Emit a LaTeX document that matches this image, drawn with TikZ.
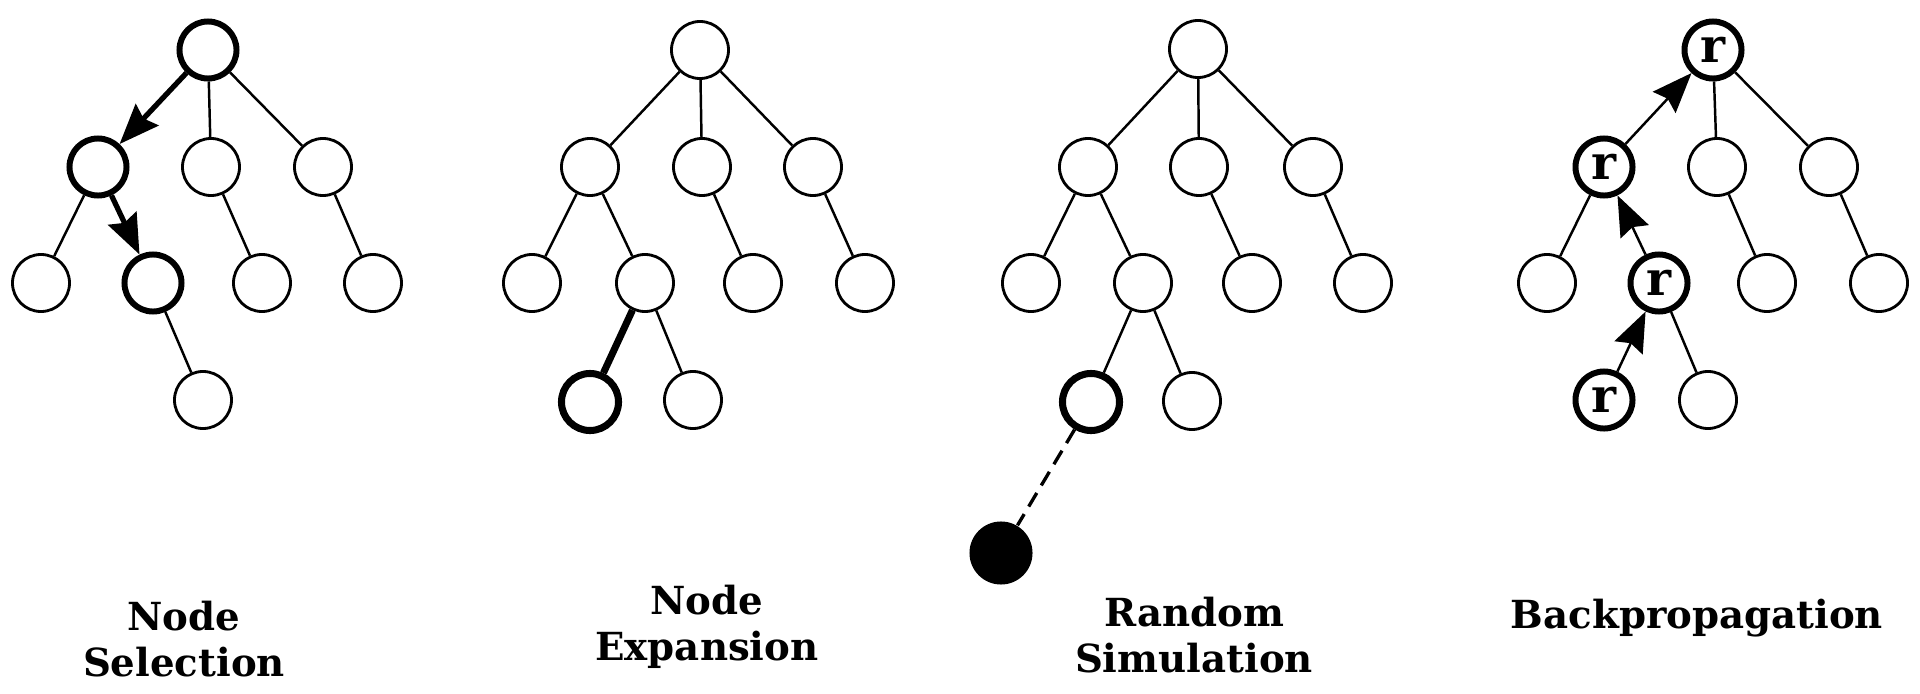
\documentclass[tikz,border=0pt]{standalone}
\usepackage{fontspec}
\setmainfont{DejaVu Serif}
\usetikzlibrary{arrows.meta,shapes.geometric}
\begin{document}
\begin{tikzpicture}[x=0.01cm,y=-0.01cm,
  nd/.style={circle,draw,line width=0.8pt,minimum size=0.57cm,inner sep=0pt,font=\fontsize{13.5}{14}\selectfont\bfseries},
  hl/.style={line width=1.7pt},
  ln/.style={line width=0.7pt},
  thk/.style={line width=1.5pt},
  arr/.style={-{Stealth[length=0.4cm,width=0.31cm,inset=0.05cm]}},
  lab/.style={align=center,font=\fontsize{11}{13}\selectfont\bfseries}
]
\useasboundingbox (0,0) rectangle (1920,694);
% ---------- Panel 1: Node Selection ----------
\node[nd,hl] (a0) at (208,50) {};
\node[nd,hl] (a1) at (98,167) {};
\node[nd] (a2) at (211,167) {};
\node[nd] (a3) at (323,167) {};
\node[nd] (a4) at (41,283) {};
\node[nd,hl] (a5) at (153,283) {};
\node[nd] (a6) at (262,283) {};
\node[nd] (a7) at (373,283) {};
\node[nd] (a8) at (203,400) {};
\draw[thk,arr] (a0) -- (a1);
\draw[ln] (a0) -- (a2);
\draw[ln] (a0) -- (a3);
\draw[ln] (a1) -- (a4);
\draw[thk,arr] (a1) -- (a5);
\draw[ln] (a2) -- (a6);
\draw[ln] (a3) -- (a7);
\draw[ln] (a5) -- (a8);
\node[lab] (la) at (184,639) {Node\\Selection};
% ---------- Panel 2: Node Expansion ----------
\node[nd] (b0) at (700,50) {};
\node[nd] (b1) at (590,167) {};
\node[nd] (b2) at (702,167) {};
\node[nd] (b3) at (813,167) {};
\node[nd] (b4) at (532,283) {};
\node[nd] (b5) at (645,283) {};
\node[nd] (b6) at (753,283) {};
\node[nd] (b7) at (865,283) {};
\node[nd,line width=2pt] (b8) at (590,402) {};
\node[nd] (b9) at (693,400) {};
\draw[ln] (b0) -- (b1);
\draw[ln] (b0) -- (b2);
\draw[ln] (b0) -- (b3);
\draw[ln] (b1) -- (b4);
\draw[ln] (b1) -- (b5);
\draw[ln] (b2) -- (b6);
\draw[ln] (b3) -- (b7);
\draw[line width=2pt] (b5) -- (b8);
\draw[ln] (b5) -- (b9);
\node[lab] (lb) at (707,627) {Node\\Expansion};
% ---------- Panel 3: Random Simulation ----------
\node[nd] (c0) at (1198,49) {};
\node[nd] (c1) at (1088,167) {};
\node[nd] (c2) at (1199,167) {};
\node[nd] (c3) at (1313,167) {};
\node[nd] (c4) at (1031,283) {};
\node[nd] (c5) at (1143,283) {};
\node[nd] (c6) at (1252,283) {};
\node[nd] (c7) at (1363,283) {};
\node[nd,line width=2pt] (c8) at (1091,402) {};
\node[nd] (c9) at (1192,401) {};
\node[circle,fill=black,minimum size=0.63cm,inner sep=0pt] (c10) at (1001,553) {};
\draw[ln] (c0) -- (c1);
\draw[ln] (c0) -- (c2);
\draw[ln] (c0) -- (c3);
\draw[ln] (c1) -- (c4);
\draw[ln] (c1) -- (c5);
\draw[ln] (c2) -- (c6);
\draw[ln] (c3) -- (c7);
\draw[ln] (c5) -- (c8);
\draw[ln] (c5) -- (c9);
\draw[line width=0.95pt,dash pattern=on 4.5pt off 2.5pt] (c8) -- (c10);
\node[lab] (lc) at (1194,635) {Random\\Simulation};
% ---------- Panel 4: Backpropagation ----------
\node[nd,hl] (d0) at (1713,50) {r};
\node[nd,hl] (d1) at (1604,167) {r};
\node[nd] (d2) at (1717,167) {};
\node[nd] (d3) at (1829,167) {};
\node[nd] (d4) at (1547,283) {};
\node[nd,hl] (d5) at (1659,283) {r};
\node[nd] (d6) at (1767,283) {};
\node[nd] (d7) at (1879,283) {};
\node[nd,hl] (d8) at (1604,400) {r};
\node[nd] (d9) at (1708,400) {};
\draw[ln,arr] (d1) -- (d0);
\draw[ln] (d0) -- (d2);
\draw[ln] (d0) -- (d3);
\draw[ln] (d1) -- (d4);
\draw[ln,arr] (d5) -- (d1);
\draw[ln] (d2) -- (d6);
\draw[ln] (d3) -- (d7);
\draw[ln,arr] (d8) -- (d5);
\draw[ln] (d5) -- (d9);
\node[lab] (ld) at (1697,618) {Backpropagation};
\end{tikzpicture}
\end{document}
